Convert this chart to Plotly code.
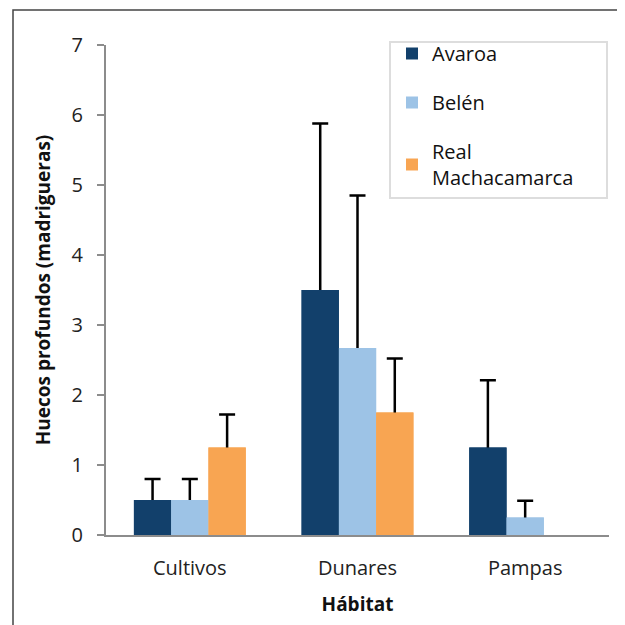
import plotly.graph_objects as go

categories = ["Cultivos", "Dunares", "Pampas"]
series_names = ["Avaroa", "Belén", "Real<br>Machacamarca"]
avaroa = [0.5, 3.5, 1.25]
avaroa_err = [0.3, 2.38, 0.96]
belen = [0.5, 2.67, 0.25]
belen_err = [0.3, 2.18, 0.24]
real = [1.25, 1.75, 0.0]
real_err = [0.47, 0.77, None]
colors = ["#12406B", "#9DC3E6", "#F8A552"]
y_ticks = [0, 1, 2, 3, 4, 5, 6, 7]

values = [avaroa, belen, real]
errors = [avaroa_err, belen_err, real_err]

fig = go.Figure()
# error-bar carriers (drawn first, lower part hidden by the bars drawn on top)
for i in range(3):
    keep = [k for k, e in enumerate(errors[i]) if e is not None]
    fig.add_trace(go.Bar(
        x=[categories[k] for k in keep], y=[values[i][k] for k in keep], name=series_names[i],
        marker=dict(color=colors[i], line=dict(width=0)),
        offsetgroup=str(i), showlegend=False, hoverinfo="skip",
        error_y=dict(type="data", array=[errors[i][k] for k in keep],
                     arrayminus=[values[i][k] for k in keep],
                     symmetric=False, color="black", thickness=2.5, width=8, visible=True),
    ))
for i in range(3):
    fig.add_trace(go.Bar(
        x=categories, y=values[i], name=series_names[i],
        marker=dict(color=colors[i], line=dict(width=0)),
        offsetgroup=str(i), legendgroup=f"g{i}",
    ))

font_family = "Open Sans, Liberation Sans, sans-serif"
W, H = 617, 617
L, T, PW, PH = 98, 37, 503, 490


def px_x(x):
    return (x - L) / PW


def px_y(y):
    return (T + PH - y) / PH


fig.update_layout(
    width=W, height=H,
    margin=dict(l=L, r=W - L - PW, t=T, b=H - T - PH, autoexpand=False),
    plot_bgcolor="white", paper_bgcolor="white",
    barmode="group", bargap=0.333, bargroupgap=0,
    font=dict(family=font_family, size=20, color="#222"),
    showlegend=True,
    legend=dict(x=px_x(384), y=px_y(26), xanchor="left", yanchor="top",
                borderwidth=0, bgcolor="rgba(0,0,0,0)",
                font=dict(size=20, color="#111"),
                tracegroupgap=20, itemwidth=30,
                traceorder="grouped"),
    xaxis=dict(showline=True, linecolor="#8C8C8C", linewidth=2, ticks="",
               tickfont=dict(size=20, color="#222"), ticklabelstandoff=14,
               title=dict(text="<b>Hábitat</b>", font=dict(size=19, color="#111"), standoff=18)),
    yaxis=dict(range=[0, 7], tickvals=y_ticks, showline=True, linecolor="#8C8C8C", linewidth=2,
               ticks="outside", ticklen=7, tickcolor="#8C8C8C", tickwidth=2,
               showgrid=False, zeroline=False, ticklabelstandoff=10,
               tickfont=dict(size=20, color="#222"),
               title=dict(text="<b>Huecos profundos (madrigueras)</b>", font=dict(size=19, color="#111"), standoff=16)),
    shapes=[
        dict(type="rect", xref="paper", yref="paper",
             x0=px_x(5), x1=1.3, y0=-0.4, y1=px_y(2),
             line=dict(color="#444", width=1.5), fillcolor="rgba(0,0,0,0)", layer="below"),
        dict(type="rect", xref="paper", yref="paper",
             x0=px_x(382), x1=px_x(599), y0=px_y(190), y1=px_y(34),
             line=dict(color="#DDDDDD", width=2), fillcolor="rgba(0,0,0,0)", layer="above"),
    ],
)

fig.write_html("out.html")
